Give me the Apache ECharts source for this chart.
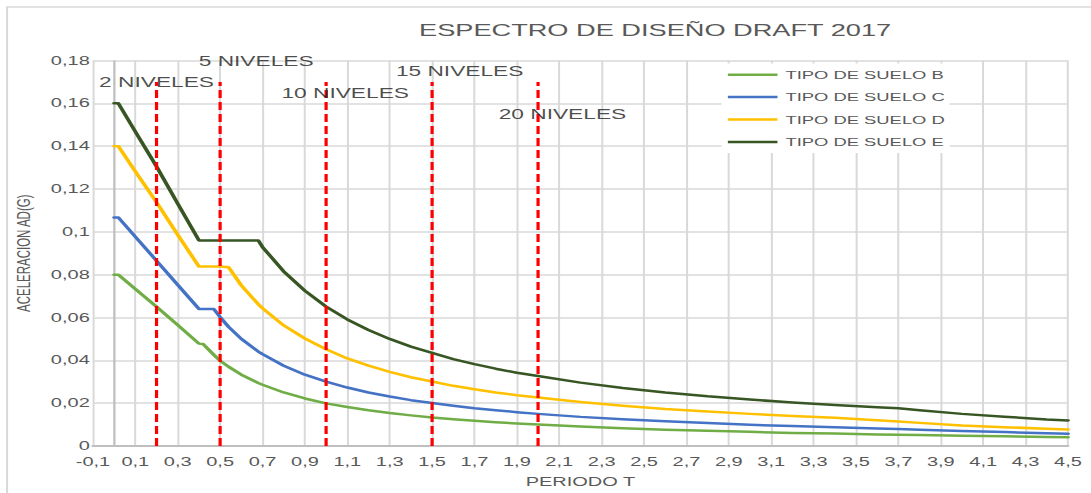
<!DOCTYPE html>
<html>
<head>
<meta charset="utf-8">
<title>Espectro de diseño Draft 2017</title>
<script src="https://cdn.jsdelivr.net/npm/echarts@6/dist/echarts.min.js"></script>
<style>
  html, body { margin: 0; padding: 0; background: #ffffff; width: 1091px; height: 493px; overflow: hidden; }
  /* the chart is laid out on a narrower canvas and widened to the page */
  #chart { width: 682px; height: 493px; transform: scaleX(1.59971); transform-origin: 0 0; }
</style>
</head>
<body>
<div id="chart"></div>
<script>
// Periodo T (s)
const periodos = [0, 0.02, 0.1, 0.2, 0.3, 0.4, 0.42, 0.47, 0.5, 0.54, 0.6, 0.68, 0.7, 0.8, 0.9,
  1.0, 1.1, 1.2, 1.3, 1.4, 1.5, 1.6, 1.7, 1.8, 1.9, 2.0, 2.2, 2.4, 2.6, 2.8, 3.0, 3.2, 3.4,
  3.6, 3.7, 3.8, 4.0, 4.2, 4.4, 4.5];

// Aceleración espectral Ad (g) por tipo de suelo
const sueloB = [0.08, 0.08, 0.0733, 0.065, 0.0565, 0.0478, 0.0476, 0.0426, 0.0398, 0.037, 0.0333,
  0.0294, 0.0286, 0.025, 0.0222, 0.0199, 0.0182, 0.0167, 0.0154, 0.0143, 0.0133, 0.0125, 0.0118,
  0.0111, 0.0105, 0.01, 0.0091, 0.0083, 0.0076, 0.0071, 0.0066, 0.0061, 0.0058, 0.0054, 0.0053,
  0.0051, 0.0048, 0.0046, 0.0042, 0.0041];
const sueloC = [0.1067, 0.1067, 0.0977, 0.0865, 0.0752, 0.064, 0.064, 0.064, 0.0602, 0.0556, 0.05,
  0.0441, 0.0429, 0.0375, 0.0333, 0.0301, 0.0273, 0.025, 0.0231, 0.0214, 0.0201, 0.0188, 0.0176,
  0.0167, 0.0158, 0.015, 0.0136, 0.0125, 0.0115, 0.0107, 0.0099, 0.0093, 0.0088, 0.0082, 0.0079,
  0.0076, 0.007, 0.0065, 0.0059, 0.0057];
const sueloD = [0.14, 0.14, 0.1282, 0.1138, 0.0986, 0.0838, 0.0838, 0.0838, 0.0838, 0.0835, 0.075,
  0.0662, 0.0643, 0.0563, 0.0502, 0.0452, 0.0409, 0.0375, 0.0346, 0.0321, 0.0301, 0.0281, 0.0265,
  0.025, 0.0237, 0.0226, 0.0205, 0.0188, 0.0173, 0.0161, 0.015, 0.014, 0.0132, 0.012, 0.0114,
  0.0108, 0.0096, 0.0088, 0.008, 0.0077];
const sueloE = [0.16, 0.16, 0.1468, 0.1305, 0.1132, 0.096, 0.096, 0.096, 0.096, 0.096, 0.096,
  0.096, 0.0929, 0.0815, 0.0725, 0.0651, 0.0591, 0.0542, 0.05, 0.0464, 0.0435, 0.0406, 0.0382,
  0.0361, 0.0342, 0.0327, 0.0296, 0.0271, 0.025, 0.0232, 0.0217, 0.0203, 0.0191, 0.0181, 0.0176,
  0.0167, 0.015, 0.0137, 0.0124, 0.0119];

const nombresSuelo = ['TIPO DE SUELO B', 'TIPO DE SUELO C', 'TIPO DE SUELO D', 'TIPO DE SUELO E'];

// Periodos de referencia por número de niveles y altura de sus líneas guía
const nivelesPeriodo = [0.2, 0.5, 1.0, 1.5, 2.0];
const nivelesAltura = 0.17;

// Rótulos de niveles (texto y punto de anclaje en coordenadas T, Ad)
const rotulosTexto = ['2 NIVELES', '5 NIVELES', '10 NIVELES', '15 NIVELES', '20 NIVELES'];
const rotulosT = [0.2, 0.67, 1.09, 1.63, 2.115];
const rotulosAd = [0.1698, 0.1795, 0.1647, 0.1749, 0.155];

const FONT = "'Liberation Sans', Arial, sans-serif";
const GRIS_TEXTO = '#595959';
const coloresSuelo = ['#70AD47', '#4472C4', '#FFC000', '#375623'];

const valoresSuelo = [sueloB, sueloC, sueloD, sueloE];

const seriesSuelo = valoresSuelo.map((vals, i) => ({
  name: nombresSuelo[i],
  type: 'line',
  data: periodos.map((t, k) => [t, vals[k]]),
  showSymbol: false,
  symbol: 'none',
  smooth: false,
  lineStyle: { color: coloresSuelo[i], width: 2.5, join: 'round', cap: 'round' },
  itemStyle: { color: coloresSuelo[i] },
  z: 3,
  markLine: i === 0 ? {
    silent: true,
    symbol: 'none',
    label: { show: false },
    lineStyle: { color: '#bfbfbf', width: 1.4, type: 'solid' },
    data: [{ xAxis: 0 }],
    z: 1
  } : undefined
}));

const seriesNiveles = nivelesPeriodo.map(t => ({
  name: 'niveles ' + t,
  type: 'line',
  data: [[t, 0], [t, nivelesAltura]],
  showSymbol: false,
  symbol: 'none',
  lineStyle: { color: '#FF0000', width: 2, type: [8, 4] },
  z: 5
}));

const serieRotulos = {
  name: 'rotulos',
  type: 'scatter',
  data: rotulosT.map((t, k) => [t, rotulosAd[k]]),
  symbolSize: 1,
  itemStyle: { color: 'rgba(0,0,0,0)' },
  label: {
    show: true,
    position: 'inside',
    formatter: p => rotulosTexto[p.dataIndex],
    color: '#1e1e1e',
    fontSize: 14.2,
    fontFamily: FONT
  },
  z: 6
};

const chart = echarts.init(document.getElementById('chart'), null, { renderer: 'svg' });

chart.setOption({
  animation: false,
  backgroundColor: '#ffffff',
  title: {
    text: 'ESPECTRO DE DISEÑO DRAFT 2017',
    left: 409.5,
    top: 20,
    textAlign: 'center',
    padding: 0,
    textStyle: { color: GRIS_TEXTO, fontSize: 17, fontWeight: 'normal', fontFamily: FONT, lineHeight: 19 }
  },
  graphic: [{
    type: 'rect',
    x: 4.4, y: 7,
    shape: { x: 0, y: 0, width: 800, height: 600 },
    style: { fill: 'none', stroke: '#d9d9d9', lineWidth: 1.3 },
    silent: true,
    z: -10
  }],
  legend: {
    data: nombresSuelo,
    orient: 'vertical',
    left: 451,
    top: 63.5,
    padding: [0, 3, 0, 4],
    icon: 'rect',
    itemWidth: 31,
    itemHeight: 2.5,
    itemGap: 0,
    backgroundColor: '#ffffff',
    textStyle: { color: GRIS_TEXTO, fontSize: 11.5, fontFamily: FONT, lineHeight: 22.4 },
    selectedMode: false
  },
  grid: { left: 58.1, right: 14.4, top: 60.5, bottom: 44.8, containLabel: false },
  xAxis: {
    type: 'value',
    min: -0.1,
    max: 4.5,
    interval: 0.2,
    name: 'PERIODO T',
    nameLocation: 'middle',
    nameGap: 29,
    nameTextStyle: { color: GRIS_TEXTO, fontSize: 12.5, fontFamily: FONT },
    axisLine: { show: true, onZero: false, lineStyle: { color: '#bfbfbf', width: 2 } },
    axisTick: { show: false },
    axisLabel: {
      color: GRIS_TEXTO, fontSize: 12.5, fontFamily: FONT, margin: 9,
      formatter: v => v.toFixed(1).replace('.', ',')
    },
    splitLine: { show: true, lineStyle: { color: '#d9d9d9', width: 1.25 } }
  },
  yAxis: {
    type: 'value',
    min: 0,
    max: 0.18,
    interval: 0.02,
    name: 'ACELERACION AD(G)',
    nameLocation: 'middle',
    nameRotate: 90,
    nameGap: 33,
    nameTextStyle: { color: GRIS_TEXTO, fontSize: 11.5, fontFamily: FONT },
    axisLine: { show: false },
    axisTick: { show: false },
    axisLabel: {
      color: GRIS_TEXTO, fontSize: 12.5, fontFamily: FONT, margin: 2,
      formatter: v => (v === 0 ? '0' : String(+v.toFixed(2)).replace('.', ','))
    },
    splitLine: { show: true, lineStyle: { color: '#d9d9d9', width: 1.6 } }
  },
  series: [...seriesSuelo, ...seriesNiveles, serieRotulos]
});
</script>
</body>
</html>
